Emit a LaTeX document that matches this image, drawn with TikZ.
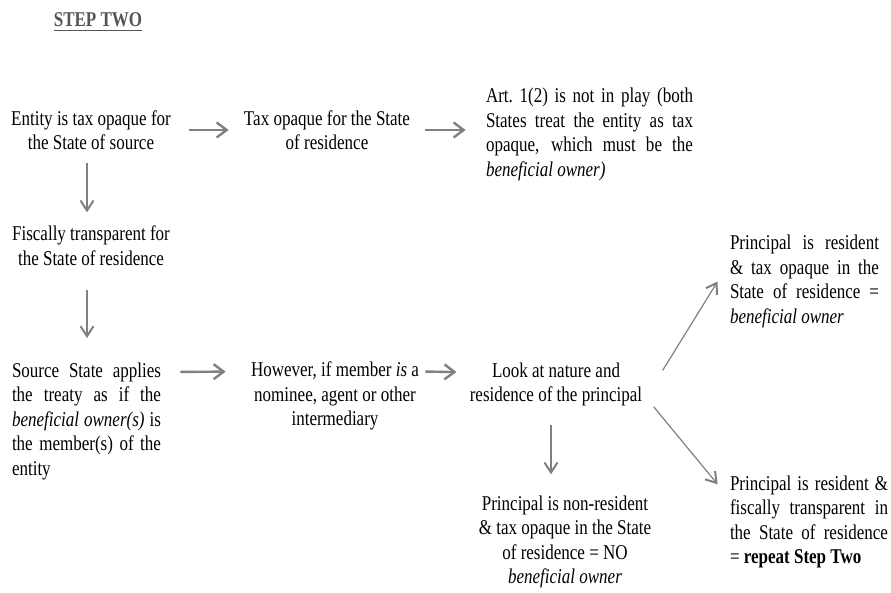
\documentclass[tikz,border=0pt]{standalone}
\usepackage{fontspec}
\setmainfont{Liberation Serif}[FakeStretch=0.81]
\usetikzlibrary{arrows.meta}

\definecolor{arrowgray}{RGB}{128,128,128}
\definecolor{headgray}{RGB}{85,85,85}

\tikzset{
  txt/.style={inner sep=0pt, align=center, font=\fontsize{10.5}{12.25}\selectfont},
  jtxt/.style={txt, align=justify},
  flow/.style={draw=arrowgray, line width=0.6pt,
    -{Straight Barb[length=5pt,width=6.5pt,line width=1pt]}},
  hflow/.style={flow, line width=1.2pt,
    -{Straight Barb[length=5pt,width=7.5pt,line width=1.2pt]}},
}

\begin{document}
\begin{tikzpicture}[x=0.5pt, y=-0.5pt]
  \useasboundingbox (0,0) rectangle (891,593);

  \node[txt, text=headgray, font=\fontsize{10.5}{12.25}\selectfont\bfseries] (steptwo) at (98,22) {\underline{STEP TWO}};

  % first row
  \node[txt] (entity) at (91,130) {Entity is tax opaque for\\the State of source};
  \node[txt] (taxop) at (327,130) {Tax opaque for the State\\of residence};
  \node[jtxt, text width=103.5pt] (art) at (589.5,134.5) {Art.\ 1(2) is not in play (both\linebreak States treat the entity as tax\linebreak opaque, which must be the\linebreak \textit{beneficial owner)}};

  % left column
  \node[txt] (fiscal) at (91,245.5) {Fiscally transparent for\\the State of residence};
  \node[jtxt, text width=74.5pt] (source) at (86.5,421) {Source State applies\linebreak the treaty as if the\linebreak \textit{beneficial owner(s)} is\linebreak the member(s) of the\linebreak entity};

  % bottom row
  \node[txt] (however) at (335,396) {However, if member \textit{is} a\\nominee, agent or other\\intermediary};
  \node[txt] (look) at (556,384.5) {Look at nature and\\residence of the principal};
  \node[txt] (nonres) at (565,542) {Principal is non-resident\\\& tax opaque in the State\\of residence = NO\\\textit{beneficial owner}};

  % right column
  \node[jtxt, text width=74.5pt] (resopq) at (804.5,281.5) {Principal is resident\linebreak \& tax opaque in the\linebreak State of residence =\linebreak \textit{beneficial owner}};
  \node[jtxt, text width=79pt] (restr) at (809,522) {Principal is resident \&\linebreak fiscally transparent in\linebreak the State of residence\linebreak = \textbf{repeat Step Two}};

  % arrows
  \draw[hflow, shorten <=9pt, shorten >=7.5pt] (entity.east) -- (taxop.west);
  \draw[hflow, shorten <=7.5pt, shorten >=10pt] (taxop.east) -- (taxop.east -| art.west);
  \draw[flow, shorten <=6.5pt, shorten >=6.5pt] ([xshift=-2pt]entity.south) -- ([xshift=-2pt]fiscal.north);
  \draw[flow, shorten <=12pt, shorten >=12pt] ([xshift=-2pt]fiscal.south) -- ([xshift=-2pt]fiscal.south |- source.north);
  \draw[hflow, shorten <=9.5pt, shorten >=12.5pt] ([yshift=-5pt]source.north east) -- ([yshift=-5pt]however.north west);
  \draw[hflow, shorten <=3pt, shorten >=6.5pt] ([yshift=-5pt]however.north east) -- ([yshift=-5pt]look.north west);
  \draw[flow, shorten <=9pt, shorten >=10.5pt] ([xshift=-2.5pt]look.south) -- ([xshift=-2.5pt]look.south |- nonres.north);
  \draw[flow] ([xshift=10pt,yshift=7pt]look.east) -- ([xshift=-6pt]resopq.west);
  \draw[flow] ([xshift=5.5pt]look.south east) -- ([xshift=-6pt,yshift=-4.5pt]restr.north west);
\end{tikzpicture}
\end{document}
